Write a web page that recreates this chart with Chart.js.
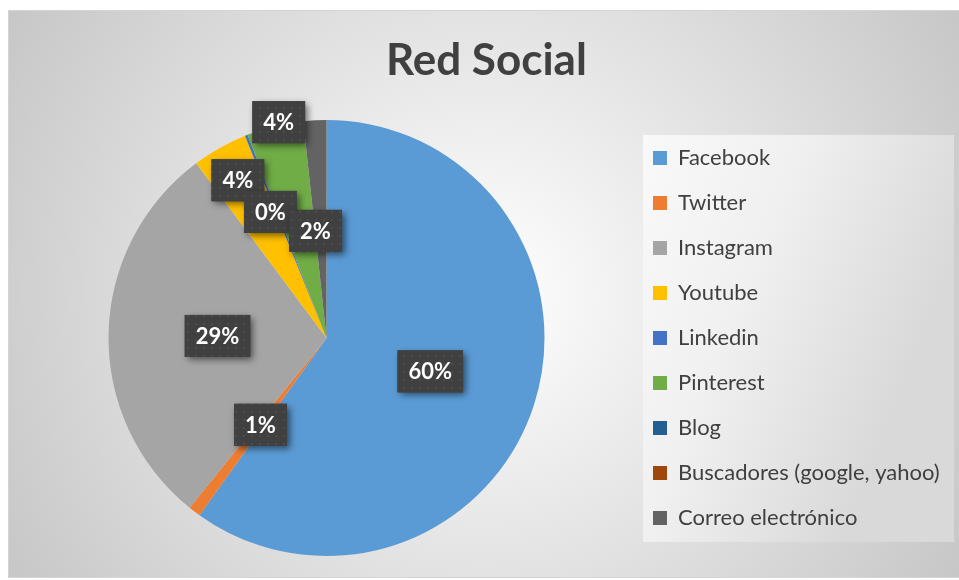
<!DOCTYPE html>
<html>
<head>
<meta charset="utf-8">
<title>Red Social</title>
<script src="https://cdn.jsdelivr.net/npm/chart.js@4.4.0/dist/chart.umd.min.js"></script>
<style>
  html, body { margin: 0; padding: 0; background: #fff; }
  #wrap { width: 959px; height: 580px; }
</style>
</head>
<body>
<div id="wrap"><canvas id="chart" width="959" height="580"></canvas></div>
<script>
// data (share of answers, in %)
var categories = ['Facebook', 'Twitter', 'Instagram', 'Youtube', 'Linkedin', 'Pinterest', 'Blog', 'Buscadores (google, yahoo)', 'Correo electrónico'];
var shares = [59.9, 0.9, 29.0, 4.1, 0.2, 4.2, 0, 0, 1.7];
var sliceColors = ['#5B9BD5', '#ED7D31', '#A5A5A5', '#FFC000', '#4472C4', '#70AD47', '#255E91', '#9E480E', '#636363'];
var chartTitle = 'Red Social';

var FONT = 'Lato, "Open Sans", sans-serif';
var TEXT_COLOR = '#404040';

// where each data label sits: fraction of the radius, and a small turn in degrees
var labelRadius = [0.5, 0.5, 0.5, 0.83, 0.633, 1.014, 0.5, 0.5, 0.494];
var labelTurn = [0, 0, 0, 0, -2.4, 1.2, 0, 0, -2.8];

// size the right padding so the legend starts at a fixed x
var legendLeft = 629;
var mctx = document.createElement('canvas').getContext('2d');
mctx.font = '22px ' + FONT;
var longest = 0;
for (var i = 0; i < categories.length; i++) {
    longest = Math.max(longest, mctx.measureText(categories[i]).width);
}
var legendWidth = 24 + 14 + 11 + longest + 10;
var maxLegend = 959 - legendLeft;
var padRight = Math.max(0, maxLegend - legendWidth);

// dotted texture for the label boxes
function makePattern(ctx) {
    var c = document.createElement('canvas');
    c.width = 8; c.height = 8;
    var p = c.getContext('2d');
    p.fillStyle = '#404040';
    p.fillRect(0, 0, 8, 8);
    p.fillStyle = '#4c4c4c';
    p.fillRect(3, 3, 2, 2);
    return ctx.createPattern(c, 'repeat');
}

var background = {
    id: 'background',
    beforeDraw: function(chart) {
        var ctx = chart.ctx;
        ctx.save();
        ctx.fillStyle = '#ffffff';
        ctx.fillRect(0, 0, chart.width, chart.height);

        // chart frame with radial gradient
        var x0 = 8, y0 = 10, x1 = chart.width, y1 = 578;
        var cx = (x0 + x1) / 2, cy = (y0 + y1) / 2;
        var g = ctx.createRadialGradient(cx, cy, 0, cx, cy, 560);
        g.addColorStop(0, '#ffffff');
        g.addColorStop(1, '#c6c6c6');
        ctx.fillStyle = g;
        ctx.fillRect(x0, y0, x1 - x0, y1 - y0);
        ctx.strokeStyle = '#d4d4d4';
        ctx.lineWidth = 1;
        ctx.strokeRect(x0 + 0.5, y0 + 0.5, x1 - x0, y1 - y0 - 1);

        // legend panel
        var lg = chart.legend;
        if (lg && lg.legendHitBoxes && lg.legendHitBoxes.length) {
            var hb = lg.legendHitBoxes;
            var bx = hb[0].left - 10;
            var by = hb[0].top - 12;
            var bw = 311;
            var bh = hb[hb.length - 1].top + hb[hb.length - 1].height + 13 - by;
            var lgG = ctx.createLinearGradient(bx, by, bx + bw, by + bh * 0.3);
            lgG.addColorStop(0, '#f9f9f9');
            lgG.addColorStop(0.45, '#f0f0f0');
            lgG.addColorStop(1, '#d9d9d9');
            ctx.fillStyle = lgG;
            ctx.fillRect(bx, by, bw, bh);
        }
        ctx.restore();
    }
};

var dataLabels = {
    id: 'dataLabels',
    afterDatasetsDraw: function(chart) {
        var ctx = chart.ctx;
        var meta = chart.getDatasetMeta(0);
        var total = 0;
        shares.forEach(function(v) { total += v; });
        var pattern = makePattern(ctx);

        ctx.save();
        ctx.font = 'bold 22px ' + FONT;
        ctx.textAlign = 'center';
        ctx.textBaseline = 'middle';

        meta.data.forEach(function(arc, idx) {
            if (!shares[idx]) return;
            var mid = (arc.startAngle + arc.endAngle) / 2 + labelTurn[idx] * Math.PI / 180;
            var r = arc.outerRadius * labelRadius[idx];
            var x = arc.x + Math.cos(mid) * r;
            var y = arc.y + Math.sin(mid) * r;
            var text = Math.round(shares[idx] / total * 100) + '%';
            var w = ctx.measureText(text).width + 22;
            var h = 42;

            ctx.save();
            ctx.shadowColor = 'rgba(0,0,0,0.55)';
            ctx.shadowBlur = 7;
            ctx.shadowOffsetX = 3;
            ctx.shadowOffsetY = 3;
            ctx.fillStyle = '#404040';
            ctx.fillRect(x - w / 2, y - h / 2, w, h);
            ctx.restore();

            ctx.fillStyle = pattern;
            ctx.fillRect(x - w / 2, y - h / 2, w, h);
            ctx.fillStyle = '#ffffff';
            ctx.fillText(text, x, y + 1);
        });
        ctx.restore();
    }
};

new Chart(document.getElementById('chart'), {
    type: 'pie',
    data: {
        labels: categories,
        datasets: [{
            data: shares,
            backgroundColor: sliceColors,
            borderWidth: 0,
            hoverOffset: 0
        }]
    },
    options: {
        responsive: false,
        animation: false,
        events: [],
        layout: {
            padding: { top: 10, left: 23, right: padRight, bottom: 24 }
        },
        plugins: {
            title: {
                display: true,
                text: chartTitle,
                color: TEXT_COLOR,
                font: { family: FONT, size: 44, weight: 'bold' },
                padding: { top: 24.6, bottom: 32.6 }
            },
            legend: {
                display: true,
                position: 'right',
                fullSize: false,
                align: 'center',
                maxWidth: maxLegend,
                labels: {
                    color: TEXT_COLOR,
                    font: { family: FONT, size: 22 },
                    boxWidth: 14,
                    boxHeight: 14,
                    padding: 23
                }
            },
            tooltip: { enabled: false }
        }
    },
    plugins: [background, dataLabels]
});
</script>
</body>
</html>
